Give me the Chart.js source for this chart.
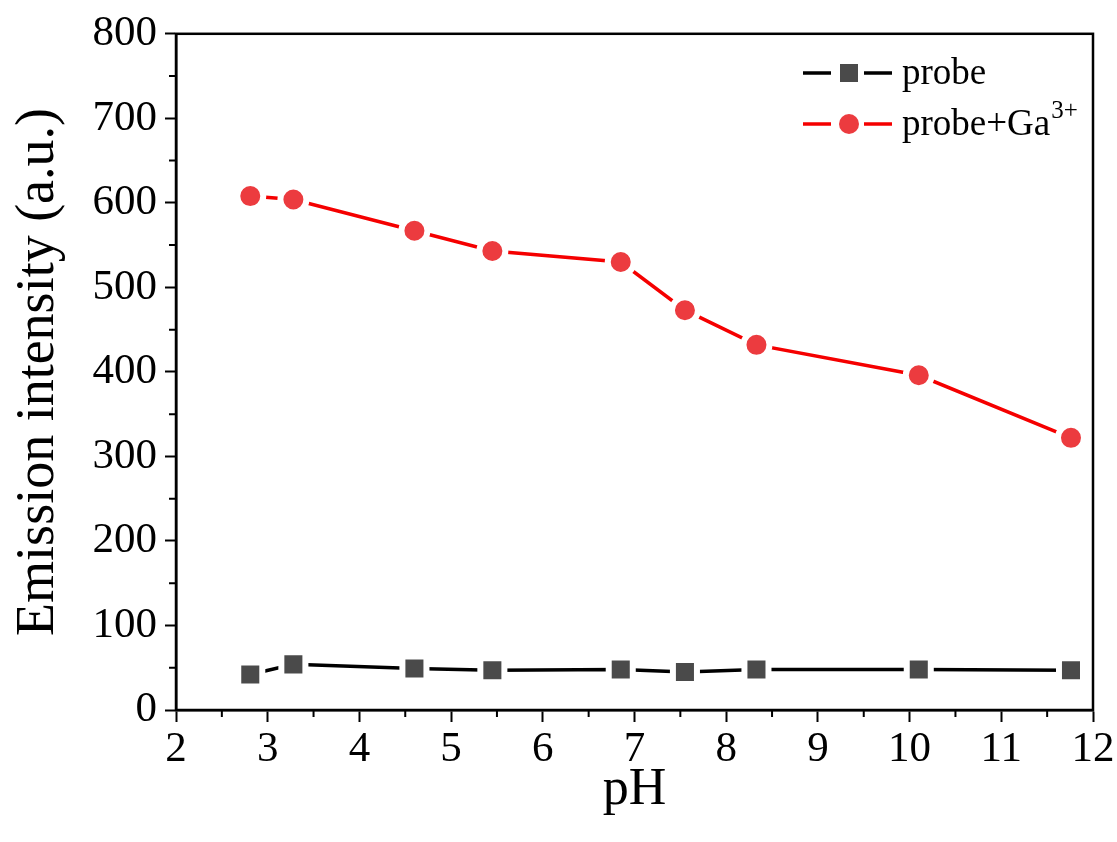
<!DOCTYPE html>
<html>
<head>
<meta charset="utf-8">
<script src="https://cdn.jsdelivr.net/npm/chart.js@4.4.0/dist/chart.umd.min.js"></script>
<style>
  html, body { margin: 0; padding: 0; background: #ffffff; }
  #wrap { width: 1117px; height: 842px; position: relative; }
</style>
</head>
<body>
<div id="wrap"><canvas id="chart"></canvas></div>
<script>
const phValues = [2.81, 3.28, 4.60, 5.45, 6.85, 7.55, 8.33, 10.10, 11.76];
const probe = [42, 54, 49, 47, 48, 45, 48, 48, 47];
const probeGa = [608, 604, 567, 543, 530, 473, 432, 396, 322];
const xTicks = [2, 3, 4, 5, 6, 7, 8, 9, 10, 11, 12];
const yTicks = [0, 100, 200, 300, 400, 500, 600, 700, 800];
const seriesNames = ["probe", "probe+Ga"];

const serif = "'Liberation Serif', 'Times New Roman', serif";

function toPoints(ys) {
  return phValues.map((x, i) => ({ x: x, y: ys[i] }));
}

// box around the plot, minor ticks, and the Origin-style legend
const frame = {
  id: "frame",
  afterDraw(chart) {
    const ctx = chart.ctx;
    const a = chart.chartArea;
    const xs = chart.scales.x;
    const ys = chart.scales.y;
    ctx.save();
    ctx.strokeStyle = "#000";
    ctx.lineWidth = 2.5;
    ctx.strokeRect(a.left, a.top, a.right - a.left, a.bottom - a.top);

    ctx.lineWidth = 2;
    ctx.beginPath();
    for (let i = 0; i < xTicks.length - 1; ++i) {
      const px = xs.getPixelForValue((xTicks[i] + xTicks[i + 1]) / 2);
      ctx.moveTo(px, a.bottom);
      ctx.lineTo(px, a.bottom + 7);
    }
    for (let i = 0; i < yTicks.length - 1; ++i) {
      const py = ys.getPixelForValue((yTicks[i] + yTicks[i + 1]) / 2);
      ctx.moveTo(a.left, py);
      ctx.lineTo(a.left - 7, py);
    }
    ctx.stroke();

    // legend
    const rows = [
      { ds: chart.data.datasets[0], y: 73 },
      { ds: chart.data.datasets[1], y: 124 },
    ];
    const x0 = 803;
    rows.forEach((r, k) => {
      ctx.strokeStyle = r.ds.borderColor;
      ctx.lineWidth = 3.5;
      ctx.beginPath();
      ctx.moveTo(x0, r.y);
      ctx.lineTo(x0 + 28, r.y);
      ctx.moveTo(x0 + 61, r.y);
      ctx.lineTo(x0 + 89, r.y);
      ctx.stroke();
      ctx.fillStyle = r.ds.pointBackgroundColor;
      const cx = x0 + 46;
      if (k === 0) {
        ctx.fillRect(cx - 9, r.y - 9, 18, 18);
      } else {
        ctx.beginPath();
        ctx.arc(cx, r.y, 10, 0, Math.PI * 2);
        ctx.fill();
      }
      ctx.fillStyle = "#000";
      ctx.font = "37px " + serif;
      ctx.textBaseline = "alphabetic";
      ctx.textAlign = "left";
      ctx.fillText(seriesNames[k], x0 + 99, r.y + 11);
      if (k === 1) {
        const w = ctx.measureText(seriesNames[k]).width;
        ctx.font = "25px " + serif;
        ctx.fillText("3+", x0 + 99 + w + 1, r.y - 6);
      }
    });
    ctx.restore();
  },
};

new Chart(document.getElementById("chart"), {
  type: "scatter",
  data: {
    datasets: [
      {
        label: "probe",
        data: toPoints(probe),
        showLine: true,
        borderColor: "#000000",
        borderWidth: 3.5,
        pointStyle: "rect",
        pointRadius: 17,
        pointHoverRadius: 17,
        pointBackgroundColor: "#4a4a4a",
        pointBorderColor: "#ffffff",
        pointBorderWidth: 6,
        pointHoverBorderWidth: 6,
      },
      {
        label: "probe+Ga3+",
        data: toPoints(probeGa),
        showLine: true,
        borderColor: "#f50000",
        borderWidth: 3.5,
        pointStyle: "circle",
        pointRadius: 13,
        pointHoverRadius: 13,
        pointBackgroundColor: "#ec3b3f",
        pointBorderColor: "#ffffff",
        pointBorderWidth: 6,
        pointHoverBorderWidth: 6,
      },
    ],
  },
  options: {
    responsive: true,
    maintainAspectRatio: false,
    animation: false,
    layout: { padding: { left: 0, right: 24, top: 33, bottom: 0 } },
    plugins: {
      legend: { display: false },
      tooltip: { enabled: false },
    },
    scales: {
      x: {
        type: "linear",
        min: 2,
        max: 12,
        afterBuildTicks: (s) => { s.ticks = xTicks.map((v) => ({ value: v })); },
        afterFit: (s) => { s.height = 132; },
        grid: { drawOnChartArea: false, drawTicks: true, tickLength: 12, tickColor: "#000", tickWidth: 2 },
        border: { color: "#000", width: 2.5 },
        ticks: { color: "#000", font: { family: serif, size: 43 }, padding: 2, maxRotation: 0 },
        title: {
          display: true,
          text: "pH",
          color: "#000",
          font: { family: serif, size: 52 },
          padding: { top: 0, bottom: 20 },
        },
      },
      y: {
        min: 0,
        max: 800,
        afterBuildTicks: (s) => { s.ticks = yTicks.map((v) => ({ value: v })); },
        afterFit: (s) => { s.width = 176; },
        grid: { drawOnChartArea: false, drawTicks: true, tickLength: 11, tickColor: "#000", tickWidth: 2 },
        border: { color: "#000", width: 2.5 },
        ticks: { color: "#000", font: { family: serif, size: 43 }, padding: 8 },
        title: {
          display: true,
          text: "Emission intensity (a.u.)",
          color: "#000",
          font: { family: serif, size: 54 },
          padding: { top: 6, bottom: 0 },
        },
      },
    },
  },
  plugins: [frame],
});
</script>
</body>
</html>
